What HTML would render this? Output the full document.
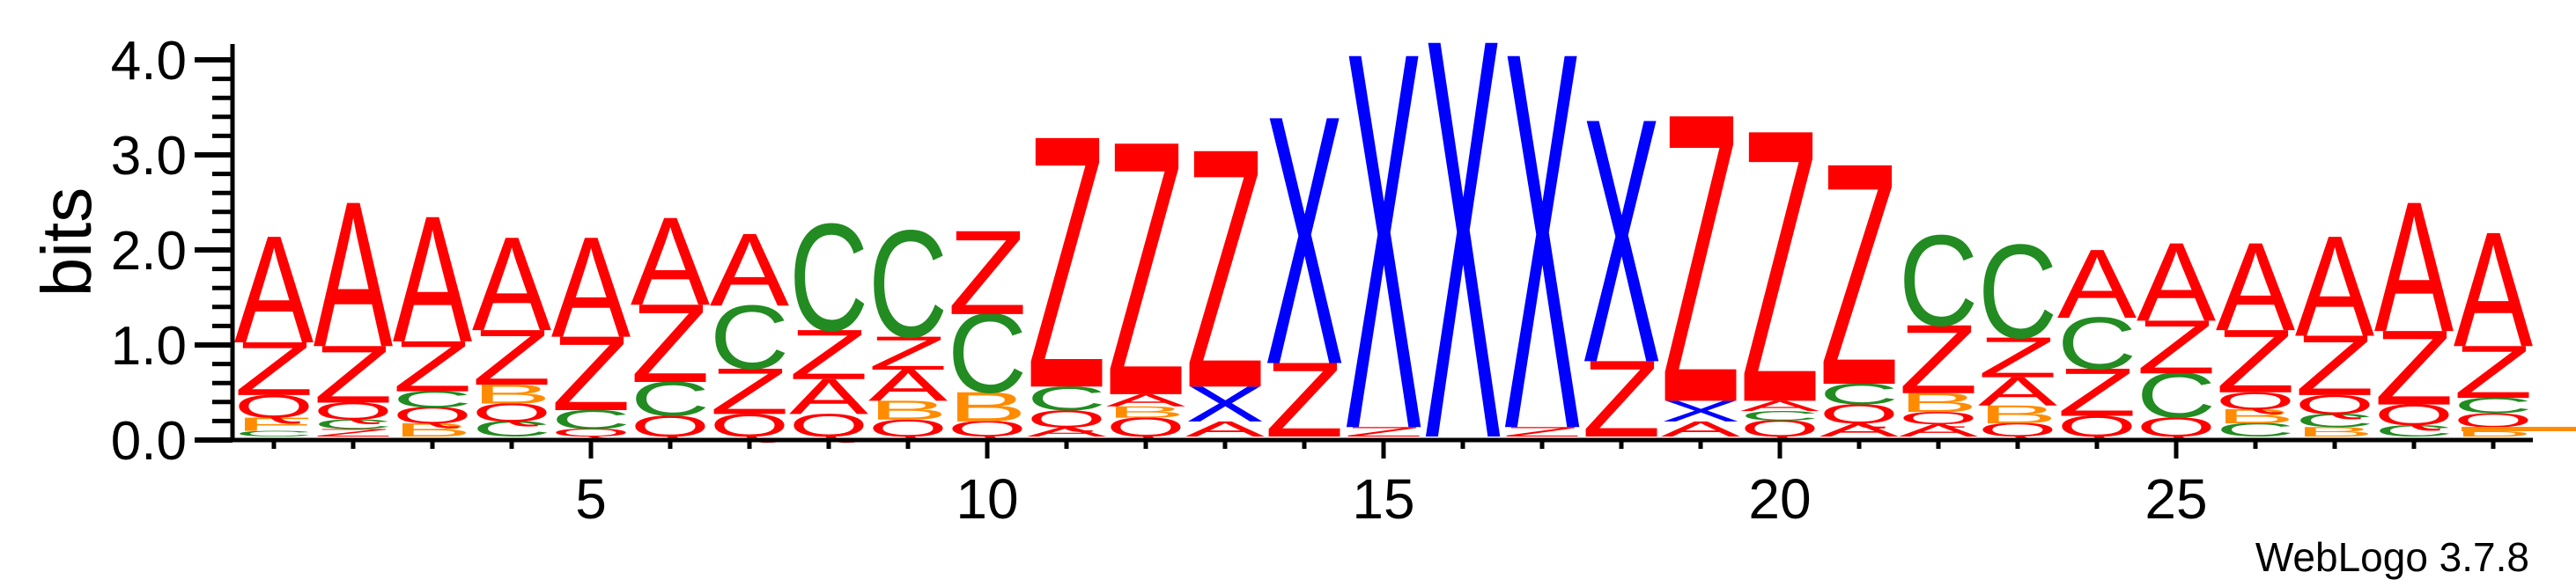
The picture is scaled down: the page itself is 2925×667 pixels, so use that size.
<!DOCTYPE html>
<html><head><meta charset="utf-8"><style>
html,body{margin:0;padding:0;background:#fff;}
svg{display:block;}
text{font-family:"Liberation Sans",sans-serif;}
</style></head><body>
<svg id="chart" width="2925" height="667" viewBox="0 0 2925 667" xmlns="http://www.w3.org/2000/svg">
<g id="letters"></g>
<g id="axes"></g>
<text transform="translate(103,275) rotate(-90)" text-anchor="middle" font-size="80">bits</text>
<text x="2872" y="649" text-anchor="end" font-size="46">WebLogo 3.7.8</text>
<rect x="2795" y="485" width="130" height="5" fill="#FF8C00"></rect>
</svg>
<script>
// Each column: letters bottom->top and their heights in bits
const stackLetters = [
 ["C","F","Q","Z","A"],
 ["Z","C","Q","Z","A"],
 ["B","Q","C","Z","A"],
 ["C","Q","B","Z","A"],
 ["Q","C","Z","A"],
 ["Q","C","Z","A"],
 ["Q","Z","C","A"],
 ["Q","A","Z","C"],
 ["Q","B","A","Z","C"],
 ["Q","B","C","Z"],
 ["A","Q","C","Z"],
 ["Q","B","A","Z"],
 ["A","X","Z"],
 ["Z","X"],
 ["Z","X"],
 ["X"],
 ["Z","X"],
 ["Z","X"],
 ["A","X","Z"],
 ["Q","C","A","Z"],
 ["A","Q","C","Z"],
 ["A","Q","B","Z","C"],
 ["Q","B","A","Z","C"],
 ["Q","Z","C","A"],
 ["Q","C","Z","A"],
 ["C","B","Q","Z","A"],
 ["B","C","Q","Z","A"],
 ["C","Q","Z","A"],
 ["B","Q","C","Z","A"]
];
const stackBits = [
 [0.06,0.14,0.24,0.56,1.12],
 [0.08,0.1,0.18,0.6,1.52],
 [0.14,0.17,0.17,0.53,1.32],
 [0.16,0.19,0.2,0.58,0.98],
 [0.08,0.2,0.78,1.05],
 [0.22,0.36,0.82,0.92],
 [0.24,0.48,0.67,0.76],
 [0.24,0.37,0.52,1.12],
 [0.18,0.2,0.33,0.35,1.12],
 [0.16,0.31,0.83,0.88],
 [0.1,0.18,0.25,2.64],
 [0.2,0.12,0.13,2.66],
 [0.16,0.37,2.5],
 [0.78,2.6],
 [0.1,3.94],
 [4.18],
 [0.1,3.94],
 [0.8,2.55],
 [0.16,0.22,3.02],
 [0.17,0.1,0.11,2.85],
 [0.14,0.2,0.22,2.32],
 [0.13,0.13,0.2,0.72,0.95],
 [0.14,0.19,0.3,0.42,0.98],
 [0.22,0.5,0.54,0.72],
 [0.2,0.47,0.56,0.82],
 [0.14,0.15,0.18,0.66,0.92],
 [0.1,0.14,0.2,0.63,1.05],
 [0.12,0.22,0.78,1.36],
 [0.1,0.15,0.16,0.55,1.2]
];
const xTickLabels = ["5","10","15","20","25"];
const yTickLabels = ["0.0","1.0","2.0","3.0","4.0"];

const colors = {A:"#FF0000",Z:"#FF0000",Q:"#FF0000",C:"#228B22",B:"#FF8C00",F:"#FF8C00",X:"#0000FF"};
const NS = "http://www.w3.org/2000/svg";
const colX = i => 311 + i*90;          // center of column (0-based)
const colW = 82;
const yLetter = b => 496 - b*107;
const yTick = b => 500 - b*108;

const lg = document.getElementById('letters');
stackLetters.forEach((col, i) => {
  let acc = 0;
  const g = document.createElementNS(NS,'g');
  
  
  col.forEach((L, j) => {
    const h = stackBits[i][j];
    const yb = yLetter(acc);
    const hpx = h*107;
    acc += h;
    if (hpx < 1) return;
    const t = document.createElementNS(NS,'text');
    
    
    const sy = hpx/68.8;
    t.setAttribute('transform', 'translate(' + (colX(i)-colW/2 - colW*0.05) + ',' + yb + ') scale(1,' + sy + ')');
    t.setAttribute('font-size', '100');
    t.setAttribute('textLength', colW*1.1);
    t.setAttribute('lengthAdjust', 'spacingAndGlyphs');
    t.setAttribute('fill', colors[L]);
    t.textContent = L;
    g.appendChild(t);
  });
  lg.appendChild(g);
});

const ax = document.getElementById('axes');
function line(x1,y1,x2,y2,w,name){
  const l = document.createElementNS(NS,'line');
  l.setAttribute('x1',x1);l.setAttribute('y1',y1);l.setAttribute('x2',x2);l.setAttribute('y2',y2);
  l.setAttribute('stroke','#000');l.setAttribute('stroke-width',w);
  
  
  ax.appendChild(l);
}
line(264,50,264,502,5,'y-axis-line');
line(262,500,2876,500,5,'x-axis-line');
for (let k=0;k<=20;k++){
  const b = k*0.2;
  const major = k%5===0;
  line(major?221:241, yTick(b), 264, yTick(b), major?6:5, major?'y-major-tick':'y-minor-tick');
}
yTickLabels.forEach((s,k)=>{
  const t = document.createElementNS(NS,'text');
  
  
  t.setAttribute('x',212); t.setAttribute('y', yTick(parseFloat(s)) + 22);
  t.setAttribute('text-anchor','end'); t.setAttribute('font-size','62');
  t.textContent = s; ax.appendChild(t);
});
for (let i=0;i<stackLetters.length;i++){
  const major = (i+1)%5===0;
  line(colX(i),500,colX(i),major?521:510,5,major?'x-major-tick':'x-minor-tick');
}
xTickLabels.forEach(s=>{
  const t = document.createElementNS(NS,'text');
  
  
  t.setAttribute('x', colX(parseInt(s)-1)); t.setAttribute('y', 589);
  t.setAttribute('text-anchor','middle'); t.setAttribute('font-size','64');
  t.textContent = s; ax.appendChild(t);
});
</script>
</body></html>
